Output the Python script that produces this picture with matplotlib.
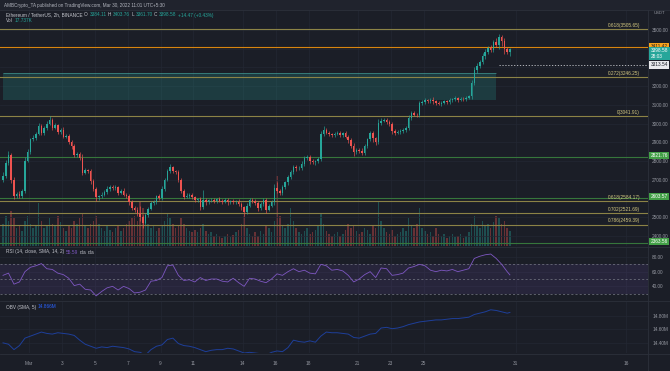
import numpy as np
import matplotlib.pyplot as plt
from matplotlib.patches import Rectangle
import matplotlib.transforms as mtransforms

# ETH/USDT 2h chart (TradingView dark theme) - candles, volume, RSI, OBV

# ---- data (one candle per 4h step) ----
first_open = 2700
closes = [2719, 2790, 2830, 2700, 2612, 2625, 2615, 2640, 2800, 2850,
          2915, 2925, 2945, 2985, 2950, 2975, 3000, 3020, 2978, 2990,
          2955, 2965, 2930, 2935, 2900, 2880, 2830, 2835, 2815, 2738,
          2750, 2745, 2690, 2650, 2605, 2612, 2620, 2635, 2650, 2662,
          2655, 2660, 2630, 2640, 2620, 2615, 2580, 2550, 2540, 2520,
          2500, 2470, 2510, 2545, 2575, 2580, 2610, 2600, 2650, 2700,
          2745, 2765, 2745, 2740, 2700, 2640, 2608, 2615, 2620, 2605,
          2590, 2595, 2555, 2590, 2578, 2590, 2592, 2585, 2595, 2588,
          2582, 2590, 2578, 2585, 2580, 2582, 2570, 2552, 2525, 2560,
          2592, 2585, 2575, 2548, 2570, 2592, 2540, 2560, 2578, 2655,
          2640, 2628, 2660, 2685, 2712, 2740, 2768, 2760, 2762, 2785,
          2815, 2822, 2800, 2792, 2798, 2808, 2945, 2965, 2950, 2942,
          2938, 2945, 2950, 2940, 2948, 2930, 2912, 2880, 2845, 2860,
          2855, 2842, 2880, 2915, 2948, 2920, 2902, 3005, 3015, 3020,
          3010, 3000, 2958, 2950, 2955, 2958, 2965, 2978, 3028, 3055,
          3048, 3045, 3108, 3115, 3125, 3120, 3128, 3118, 3110, 3105,
          3112, 3118, 3115, 3125, 3130, 3135, 3128, 3132, 3130, 3138,
          3145, 3215, 3285, 3310, 3330, 3360, 3385, 3405, 3395, 3436,
          3420, 3460, 3440, 3400, 3384.11, 3398.58]
upper_wick = [20, 15, 25, 10, 12, 8, 15, 10, 20, 12,
              10, 15, 8, 20, 12, 10, 15, 18, 10, 12,
              8, 12, 15, 10, 8, 12, 10, 15, 12, 20,
              10, 8, 12, 15, 10, 8, 12, 10, 15, 8,
              10, 12, 8, 10, 15, 10, 8, 12, 10, 15,
              40, 12, 10, 8, 12, 10, 8, 12, 15, 10,
              12, 20, 10, 8, 12, 10, 8, 12, 10, 8,
              10, 8, 12, 55, 10, 8, 12, 10, 8, 10,
              8, 10, 12, 8, 10, 8, 12, 10, 8, 15,
              10, 8, 12, 10, 8, 12, 10, 8, 12, 20,
              30, 10, 12, 8, 15, 10, 12, 8, 10, 12,
              10, 12, 8, 10, 8, 12, 15, 20, 10, 12,
              8, 10, 12, 10, 8, 12, 10, 8, 15, 10,
              8, 12, 10, 8, 12, 10, 8, 20, 15, 10,
              12, 8, 10, 12, 8, 10, 12, 8, 15, 10,
              12, 8, 15, 10, 12, 8, 10, 12, 8, 10,
              8, 10, 8, 12, 8, 10, 8, 10, 12, 8,
              10, 20, 15, 12, 10, 15, 12, 10, 15, 12,
              20, 18, 12, 15, 10, 5.18]
lower_wick = [15, 10, 12, 20, 15, 10, 12, 15, 10, 8,
              12, 10, 15, 8, 10, 12, 10, 8, 12, 10,
              10, 12, 8, 10, 12, 15, 10, 8, 12, 15,
              8, 10, 12, 10, 20, 12, 10, 8, 10, 12,
              8, 10, 12, 8, 10, 12, 15, 10, 12, 15,
              20, 30, 10, 12, 8, 10, 12, 8, 10, 12,
              8, 10, 12, 10, 15, 12, 10, 8, 12, 10,
              12, 8, 20, 10, 12, 8, 10, 12, 8, 10,
              10, 8, 12, 10, 8, 12, 10, 15, 20, 10,
              8, 10, 12, 15, 8, 10, 20, 10, 8, 12,
              10, 12, 8, 10, 12, 8, 10, 12, 8, 10,
              12, 8, 15, 10, 12, 8, 10, 12, 8, 10,
              10, 12, 8, 10, 12, 10, 15, 12, 20, 10,
              12, 10, 8, 12, 10, 20, 15, 10, 12, 8,
              10, 12, 15, 10, 8, 12, 10, 8, 12, 10,
              8, 12, 10, 8, 12, 10, 8, 12, 10, 8,
              10, 8, 12, 10, 8, 10, 12, 8, 10, 8,
              8, 12, 10, 15, 12, 10, 15, 12, 10, 15,
              12, 20, 25, 30, 15, 22.41]
volumes = [22, 30, 25, 35, 28, 18, 20, 15, 25, 30,
           22, 18, 20, 43, 25, 18, 20, 28, 22, 20,
           30, 24, 18, 15, 20, 18, 25, 22, 28, 32,
           20, 18, 22, 25, 30, 22, 18, 15, 20, 16,
           14, 18, 20, 15, 18, 22, 25, 28, 30, 25,
           45, 38, 30, 22, 18, 20, 15, 18, 20, 25,
           32, 28, 22, 18, 20, 28, 22, 18, 15, 14,
           16, 14, 18, 22, 15, 12, 14, 10, 12, 10,
           8, 10, 12, 9, 11, 14, 16, 22, 30, 18,
           12, 10, 14, 10, 15, 12, 20, 18, 14, 25,
           70, 30, 20, 18, 22, 38, 25, 18, 14, 12,
           15, 18, 12, 14, 16, 20, 33, 22, 15, 12,
           10, 12, 14, 10, 12, 16, 22, 18, 20, 15,
           12, 14, 18, 16, 12, 20, 18, 45, 25, 18,
           14, 12, 16, 10, 12, 14, 18, 15, 28, 20,
           18, 22, 38, 18, 15, 12, 14, 10, 18, 12,
           10, 12, 8, 10, 12, 9, 10, 12, 8, 10,
           14, 22, 30, 20, 18, 25, 20, 22, 18, 24,
           30, 28, 22, 25, 18, 15]

# RSI and OBV sampled every second candle, plus the last one
rsi_vals = [55, 58, 43, 46, 60, 66, 68, 71, 64, 63,
            58, 56, 51, 41, 43, 36, 35, 27, 33, 38,
            40, 35, 40, 37, 31, 32, 35, 47, 48, 52,
            68, 69, 55, 48, 49, 46, 52, 48, 50, 50,
            47, 46, 51, 45, 40, 51, 50, 47, 45, 50,
            57, 55, 60, 64, 60, 62, 58, 57, 70, 68,
            62, 63, 61, 55, 46, 50, 56, 60, 52, 65,
            64, 55, 56, 58, 65, 67, 70, 68, 62, 60,
            62, 61, 63, 60, 62, 64, 78, 81, 83, 84,
            78, 70, 60, 55.59]
obv_vals = [14.40, 14.38, 14.30, 14.36, 14.47, 14.50, 14.53, 14.56, 14.54, 14.53,
            14.55, 14.54, 14.53, 14.51, 14.44, 14.38, 14.35, 14.32, 14.34, 14.33,
            14.35, 14.34, 14.33, 14.31, 14.27, 14.26, 14.22, 14.30, 14.35, 14.37,
            14.45, 14.47, 14.39, 14.36, 14.35, 14.33, 14.30, 14.27, 14.29, 14.30,
            14.30, 14.32, 14.31, 14.28, 14.25, 14.26, 14.25, 14.24, 14.22, 14.26,
            14.28, 14.27, 14.33, 14.44, 14.42, 14.41, 14.43, 14.41, 14.50, 14.56,
            14.55, 14.55, 14.54, 14.53, 14.48, 14.47, 14.50, 14.53, 14.54, 14.62,
            14.63, 14.61, 14.62, 14.64, 14.67, 14.69, 14.71, 14.72, 14.73, 14.74,
            14.74, 14.75, 14.76, 14.76, 14.77, 14.78, 14.82, 14.84, 14.86, 14.89,
            14.88, 14.86, 14.84, 14.85]

fib_prices = [3505.65, 3246.25, 3041.91, 2584.17, 2521.69, 2459.39]
fib_labels = ["0.618(3505.65)", "0.272(3246.25)", "0(3041.91)",
              "0.618(2584.17)", "0.702(2521.69)", "0.786(2459.39)"]
support_prices = [2821.76, 2603.57, 2363.56]
resistance_price = 3411.42
marker_price = 3313.54
zone_low, zone_high = 3126, 3270
zone_start, zone_end = 0, 180

price_ticks = [2400, 2500, 2600, 2700, 2800, 2900, 3000, 3100, 3200, 3300, 3400, 3500]
hidden_ticks = [2600, 3300, 3400]   # covered by the coloured price boxes

tick_days = [1, 3, 5, 7, 9, 11, 14, 16, 18, 21, 23, 25, 30.6, 37.3]
tick_labels = ["Mar", "3", "5", "7", "9", "11", "14", "16", "18", "21", "23", "25", "31", "16"]

# ---- colours ----
BG = '#1b1e27'
GRID = '#232733'
SEP = '#2c303b'
TXT = '#9598a1'
UP = '#26a69a'
DOWN = '#ef5350'
FIB = '#8c8346'
FIBTXT = '#d4c880'
GREEN_LINE = '#36763b'
GREEN_BOX = '#43a047'
ORANGE = '#d9850f'
PURPLE = '#7e57c2'
BLUE = '#2962ff'

plt.rcParams['font.family'] = ['Liberation Sans', 'DejaVu Sans']

W, H = 670, 371
fig = plt.figure(figsize=(6.7, 3.71), dpi=100, facecolor=BG)


def axes_px(left, top, right, bottom):
    return fig.add_axes([left / W, 1 - bottom / H, (right - left) / W, (bottom - top) / H])


ax = axes_px(0, 10, 648, 246)
ax_rsi = axes_px(0, 247, 648, 300)
ax_obv = axes_px(0, 301, 648, 353)

n = len(closes)
x = np.arange(n)
c = np.array(closes, dtype=float)
o = np.array([first_open] + closes[:-1], dtype=float)
hi = np.maximum(o, c) + np.array(upper_wick)
lo = np.minimum(o, c) - np.array(lower_wick)
up = c >= o
colors = np.where(up, UP, DOWN)
tick_pos = [(d - 1) * 6 + 9.5 for d in tick_days]

# volume lives on a twin axis behind the candles (twinx moves ticks, so make it first)
axv = ax.twinx()
axv.bar(x, volumes, width=0.55, color=colors, alpha=0.36, lw=0)
axv.set_ylim(0, 236)
axv.axis('off')
axv.set_zorder(ax.get_zorder() - 1)
axv.patch.set_visible(False)

for a in (ax, ax_rsi, ax_obv):
    a.set_facecolor(BG)
    for s in a.spines.values():
        s.set_visible(False)
    a.set_xlim(-1.1, 235.4)
    a.yaxis.tick_right()
    a.tick_params(axis='y', left=False, labelleft=False, right=True, labelright=True,
                  length=0, labelsize=3.4, labelcolor=TXT, pad=3)
    a.tick_params(axis='x', length=0, labelsize=3.4, labelcolor=TXT, pad=6)
    a.set_xticks(tick_pos)
    a.grid(True, color=GRID, lw=0.5)
    a.set_axisbelow(True)
ax.set_xticklabels([])
ax_rsi.set_xticklabels([])
ax_obv.set_xticklabels(tick_labels)
ax.patch.set_visible(False)

# ---- price pane ----
ax.set_ylim(2345, 3607)
ax.set_yticks(price_ticks)
ax.set_yticklabels(["" if v in hidden_ticks else f"{v:.2f}" for v in price_ticks])

ax.add_patch(Rectangle((zone_start, zone_low), zone_end - zone_start, zone_high - zone_low,
                       fc=UP, alpha=0.22, ec='none', zorder=1))
ax.hlines(zone_high, zone_start, zone_end, color='#4db6ac', lw=0.6, alpha=0.6, zorder=1)

for p, lab in zip(fib_prices, fib_labels):
    ax.axhline(p, color=FIB, lw=0.8, zorder=2)
    ax.text(232.5, p + 6, lab, color=FIBTXT, fontsize=3.4, ha='right', va='bottom', zorder=5)
for p in support_prices:
    ax.axhline(p, color=GREEN_LINE, lw=0.8, zorder=2)
ax.axhline(resistance_price, color=ORANGE, lw=0.8, zorder=2)
ax.hlines(marker_price, 181, 236, color='#c8cad0', lw=0.6, linestyles=(0, (1.5, 2)), zorder=2)

body = c - o
body = np.where(np.abs(body) < 2, 2, body)
ax.vlines(x, lo, hi, colors=colors, lw=0.45, zorder=3)
ax.bar(x, body, bottom=o, width=0.55, color=colors, lw=0, zorder=4)

# right axis price boxes
tr = mtransforms.blended_transform_factory(ax.transAxes, ax.transData)
box_kw = dict(fontsize=3.4, ha='left', va='center', transform=tr, zorder=10, clip_on=False)
ax.text(1.004, resistance_price, "3411.42", color='#1b1e27',
        bbox=dict(boxstyle='square,pad=0.3', fc='#f7a21b', ec='none'), **box_kw)
ax.text(1.004, closes[-1] - 24, "3398.58\n28:03", color='white', linespacing=1.1,
        bbox=dict(boxstyle='square,pad=0.3', fc=UP, ec='none'), **box_kw)
ax.text(1.004, marker_price, "3313.54", color='#1b1e27',
        bbox=dict(boxstyle='square,pad=0.3', fc='#e8e9ec', ec='none'), **box_kw)
for p in support_prices:
    ax.text(1.004, p + 6, f"{p:.2f}", color='white',
            bbox=dict(boxstyle='square,pad=0.25', fc=GREEN_BOX, ec='none'), **box_kw)

# ---- RSI pane ----
rsi_x = list(range(0, n - 1, 2)) + [n - 1]
ax_rsi.set_ylim(21.4, 93.6)
ax_rsi.set_yticks([40, 60, 80])
ax_rsi.set_yticklabels(["40.00", "60.00", "80.00"])
ax_rsi.axhspan(30, 70, color=PURPLE, alpha=0.13, lw=0)
for lvl in (30, 50, 70):
    ax_rsi.axhline(lvl, color='#787b86', lw=0.5, ls=(0, (3, 3)))
ax_rsi.plot(rsi_x, rsi_vals, color=PURPLE, lw=0.6)

# ---- OBV pane ----
ax_obv.set_ylim(14.25, 15.02)
ax_obv.set_yticks([14.4, 14.6, 14.8])
ax_obv.set_yticklabels(["14.40M", "14.60M", "14.80M"])
ax_obv.plot(rsi_x, obv_vals, color='#1e3f9a', lw=0.7)

# ---- separators & header ----
for yy in (246.5, 300.5, 353.5):
    fig.add_artist(plt.Line2D([0, 1], [1 - yy / H] * 2, color=SEP, lw=0.6))
fig.add_artist(plt.Line2D([648 / W] * 2, [0, 1 - 10 / H], color=SEP, lw=0.6))
fig.add_artist(Rectangle((0, 1 - 9.5 / H), 1, 9.5 / H, transform=fig.transFigure,
                         fc='#20232d', ec='none'))
fig.add_artist(plt.Line2D([0, 1], [1 - 9.5 / H] * 2, color=SEP, lw=0.6))
fig.text(4 / W, 1 - 5 / H, "AMBCrypto_TA published on TradingView.com, Mar 30, 2022 11:01 UTC+5:30",
         color='#b2b5be', fontsize=3.3, va='center')
fig.text(659 / W, 1 - 13 / H, "USDT", color=TXT, fontsize=3.0, ha='center', va='center')

renderer = fig.canvas.get_renderer()


def text_run(x_px, y_px, parts, size=3.4):
    xx = x_px
    for s, col in parts:
        t = fig.text(xx / W, 1 - y_px / H, s, color=col, fontsize=size, va='center')
        xx += t.get_window_extent(renderer).width + 1.5


LBL = '#c3c5cc'
text_run(6, 15, [("Ethereum / TetherUS, 2h, BINANCE", LBL), ("O", LBL), ("3384.11", UP),
                 ("H", LBL), ("3403.76", UP), ("L", LBL), ("3361.70", UP),
                 ("C", LBL), ("3398.58", UP), ("+14.47 (+0.43%)", UP)])
text_run(6, 21, [("Vol", LBL), ("17.737K", UP)])
text_run(6, 252, [("RSI (14, close, SMA, 14, 2)", LBL), ("55.59", PURPLE), ("n/a", LBL), ("n/a", LBL)])
text_run(6, 307, [("OBV (SMA, 5)", LBL), ("14.866M", BLUE)])

fig.savefig("out.png", dpi=100, facecolor=BG)
